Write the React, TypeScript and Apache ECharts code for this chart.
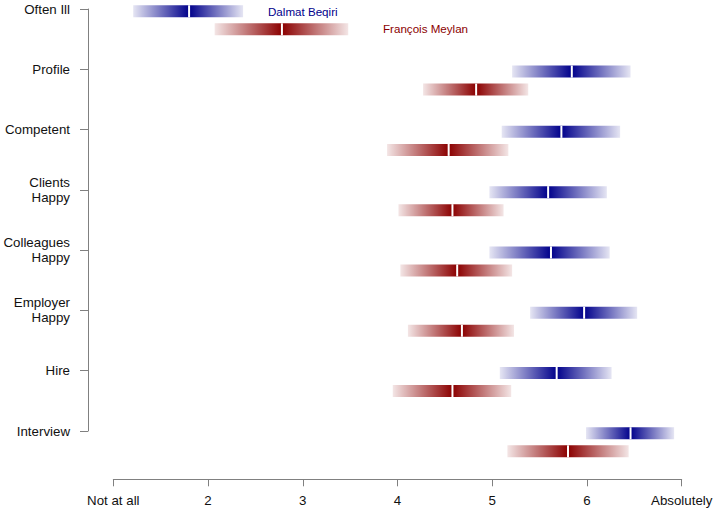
import React, { useEffect, useRef } from "react";
import * as echarts from "echarts";

const categories = [
  "Often Ill",
  "Profile",
  "Competent",
  "Clients\nHappy",
  "Colleagues\nHappy",
  "Employer\nHappy",
  "Hire",
  "Interview",
];
const xTickLabels = ["Not at all", "2", "3", "4", "5", "6", "Absolutely"];
const seriesNames = ["Dalmat Beqiri", "François Meylan"];

const dalmatLow = [1.21, 5.21, 5.1, 4.97, 4.97, 5.4, 5.08, 5.99];
const dalmatMean = [1.8, 5.84, 5.73, 5.59, 5.62, 5.97, 5.68, 6.46];
const dalmatHigh = [2.37, 6.46, 6.35, 6.21, 6.24, 6.53, 6.26, 6.92];

const francoisLow = [2.07, 4.27, 3.89, 4.01, 4.03, 4.11, 3.95, 5.16];
const francoisMean = [2.78, 4.83, 4.54, 4.58, 4.63, 4.68, 4.58, 5.8];
const francoisHigh = [3.48, 5.38, 5.17, 5.12, 5.21, 5.23, 5.2, 6.44];

const FONT = "'Liberation Sans', Arial, Helvetica, sans-serif";

function makeRender(rgb: string, yOff: number) {
  return (params: any, api: any) => {
    const lo = api.value(0);
    const mean = api.value(1);
    const hi = api.value(2);
    const y = api.value(3) + yOff;
    const p0 = api.coord([lo, y]);
    const pm = api.coord([mean, y]);
    const p1 = api.coord([hi, y]);
    const h = 12;
    const top = pm[1] - h / 2;
    return {
      type: "group",
      children: [
        {
          type: "rect",
          shape: { x: p0[0], y: top, width: pm[0] - p0[0], height: h },
          style: {
            fill: new echarts.graphic.LinearGradient(0, 0, 1, 0, [
              { offset: 0, color: `rgba(${rgb},0.1)` },
              { offset: 1, color: `rgba(${rgb},1)` },
            ]),
          },
        },
        {
          type: "rect",
          shape: { x: pm[0], y: top, width: p1[0] - pm[0], height: h },
          style: {
            fill: new echarts.graphic.LinearGradient(0, 0, 1, 0, [
              { offset: 0, color: `rgba(${rgb},1)` },
              { offset: 1, color: `rgba(${rgb},0.1)` },
            ]),
          },
        },
        {
          type: "rect",
          shape: { x: pm[0] - 1, y: top, width: 2, height: h },
          style: { fill: "#ffffff" },
        },
      ],
    };
  };
}

export default function App() {
  const ref = useRef<HTMLDivElement>(null);
  useEffect(() => {
    if (!ref.current) return;
    const chart = echarts.init(ref.current, null, { renderer: "svg" });
    const blueData = categories.map((_, i) => [dalmatLow[i], dalmatMean[i], dalmatHigh[i], i]);
    const redData = categories.map((_, i) => [francoisLow[i], francoisMean[i], francoisHigh[i], i]);
    chart.setOption({
      animation: false,
      backgroundColor: "#ffffff",
      textStyle: { fontFamily: FONT },
      grid: {
        left: 113.3,
        right: 36.3,
        top: 9,
        bottom: 81,
        containLabel: false,
        outerBoundsMode: "none",
      },
      xAxis: {
        type: "value",
        position: "bottom",
        min: 1,
        max: 7,
        interval: 1,
        offset: 48.3,
        axisLine: { show: true, onZero: false, lineStyle: { color: "#808080", width: 1 } },
        axisTick: { show: true, length: 7, lineStyle: { color: "#808080" } },
        splitLine: { show: false },
        axisLabel: {
          show: true,
          margin: 15,
          fontSize: 13.3,
          color: "#111",
          fontFamily: FONT,
          showMinLabel: true,
          showMaxLabel: true,
          formatter: (v: number) => xTickLabels[Math.round(v) - 1] ?? "",
        },
      },
      yAxis: {
        type: "value",
        inverse: true,
        min: 0,
        max: 7,
        interval: 1,
        position: "left",
        offset: 25.3,
        axisLine: { show: true, onZero: false, lineStyle: { color: "#808080", width: 1 } },
        axisTick: { show: true, length: 8, lineStyle: { color: "#808080" } },
        splitLine: { show: false },
        axisLabel: {
          show: true,
          margin: 18,
          fontSize: 13.3,
          lineHeight: 15,
          color: "#111",
          fontFamily: FONT,
          align: "right",
          showMinLabel: true,
          showMaxLabel: true,
          formatter: (v: number) => categories[Math.round(v)] ?? "",
        },
      },
      series: [
        {
          name: seriesNames[0],
          type: "custom",
          renderItem: makeRender("0,0,139", 0.038),
          encode: { x: [0, 1, 2], y: 3 },
          data: blueData,
          clip: false,
        },
        {
          name: seriesNames[1],
          type: "custom",
          renderItem: makeRender("139,0,0", 0.337),
          encode: { x: [0, 1, 2], y: 3 },
          data: redData,
          clip: false,
        },
      ],
      graphic: [
        {
          type: "text",
          left: 268,
          top: 5.3,
          style: { text: seriesNames[0], fill: "#00008b", font: `11.6px ${FONT}` },
        },
        {
          type: "text",
          left: 383,
          top: 22.8,
          style: { text: seriesNames[1], fill: "#8b0000", font: `11.6px ${FONT}` },
        },
      ],
    });
    return () => chart.dispose();
  }, []);
  return (
    <div
      ref={ref}
      style={{ position: "fixed", left: 0, top: 0, width: 718, height: 512, background: "#fff" }}
    />
  );
}
